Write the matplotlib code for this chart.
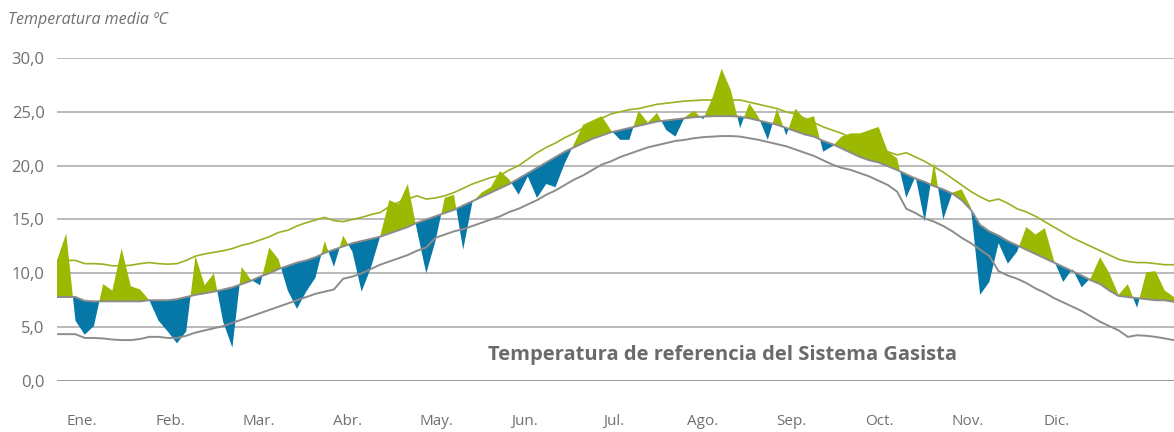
import numpy as np
import matplotlib.pyplot as plt

# daily series sampled every 3 days (day 0 .. 363)
upper = [11.2, 11.2, 11.2, 10.9, 10.9, 10.85, 10.7, 10.7, 10.75, 10.9,
         11.0, 10.9, 10.85, 10.9, 11.2, 11.6, 11.8, 11.95, 12.1, 12.3,
         12.6, 12.8, 13.1, 13.4, 13.8, 14.0, 14.4, 14.7, 14.95, 15.2,
         14.9, 14.8, 15.0, 15.2, 15.45, 15.65, 16.2, 16.6, 16.9, 17.2,
         16.9, 17.0, 17.2, 17.5, 17.9, 18.3, 18.6, 18.9, 19.1, 19.6,
         20.0, 20.6, 21.2, 21.7, 22.1, 22.6, 23.0, 23.5, 24.0, 24.4,
         24.8, 25.0, 25.2, 25.3, 25.5, 25.7, 25.8, 25.9, 26.0, 26.05,
         26.1, 26.1, 26.1, 26.1, 26.1, 25.9, 25.7, 25.5, 25.3, 25.0,
         24.8, 24.4, 24.0, 23.6, 23.3, 23.0, 22.6, 22.3, 21.9, 21.6,
         21.3, 21.0, 21.2, 20.8, 20.4, 19.9, 19.4, 18.8, 18.2, 17.6,
         17.1, 16.7, 16.9, 16.5, 16.0, 15.7, 15.3, 14.8, 14.3, 13.8,
         13.3, 12.9, 12.5, 12.1, 11.7, 11.3, 11.1, 11.0, 11.0, 10.9,
         10.8, 10.8]

referencia = [7.8, 7.8, 7.8, 7.45, 7.4, 7.4, 7.4, 7.4, 7.4, 7.4,
              7.5, 7.5, 7.5, 7.6, 7.8, 8.0, 8.15, 8.3, 8.5, 8.7,
              9.0, 9.3, 9.7, 10.0, 10.4, 10.7, 11.0, 11.2, 11.5, 11.9,
              12.2, 12.5, 12.8, 13.0, 13.2, 13.4, 13.7, 14.0, 14.3, 14.7,
              15.0, 15.3, 15.6, 15.9, 16.3, 16.7, 17.1, 17.5, 17.9, 18.3,
              18.8, 19.3, 19.8, 20.3, 20.8, 21.3, 21.7, 22.1, 22.5, 22.8,
              23.1, 23.3, 23.5, 23.7, 23.9, 24.1, 24.2, 24.3, 24.4, 24.5,
              24.55, 24.6, 24.6, 24.6, 24.55, 24.4, 24.2, 24.0, 23.8, 23.5,
              23.2, 22.9, 22.7, 22.3, 22.0, 21.6, 21.2, 20.8, 20.5, 20.3,
              19.95, 19.6, 19.2, 18.8, 18.5, 18.1, 17.8, 17.4, 16.8, 15.9,
              14.5, 13.9, 13.5, 13.0, 12.6, 12.2, 11.8, 11.4, 11.0, 10.6,
              10.2, 9.8, 9.35, 9.0, 8.4, 7.9, 7.8, 7.7, 7.6, 7.5,
              7.5, 7.35]

lower = [4.35, 4.35, 4.35, 4.0, 4.0, 3.95, 3.85, 3.8, 3.8, 3.9,
         4.1, 4.1, 4.0, 4.0, 4.2, 4.5, 4.7, 4.9, 5.1, 5.4,
         5.7, 6.0, 6.3, 6.6, 6.9, 7.2, 7.5, 7.8, 8.1, 8.3,
         8.5, 9.5, 9.7, 10.0, 10.4, 10.8, 11.1, 11.4, 11.7, 12.1,
         12.4, 13.3, 13.6, 13.9, 14.1, 14.4, 14.7, 15.0, 15.3, 15.7,
         16.0, 16.4, 16.8, 17.3, 17.7, 18.2, 18.7, 19.1, 19.6, 20.1,
         20.4, 20.8, 21.1, 21.4, 21.7, 21.9, 22.1, 22.3, 22.4, 22.55,
         22.65, 22.7, 22.75, 22.75, 22.7, 22.55, 22.4, 22.2, 22.0, 21.8,
         21.5, 21.2, 20.9, 20.5, 20.1, 19.8, 19.6, 19.3, 19.0, 18.6,
         18.2, 17.6, 16.0, 15.6, 15.1, 14.8, 14.4, 13.9, 13.3, 12.8,
         12.2, 11.6, 10.2, 9.8, 9.5, 9.1, 8.6, 8.2, 7.7, 7.3,
         6.9, 6.5, 6.0, 5.5, 5.1, 4.7, 4.1, 4.25, 4.2, 4.1,
         3.95, 3.8]

media = [11.2, 13.7, 5.6, 4.3, 5.1, 9.0, 8.4, 12.3, 8.8, 8.5,
         7.5, 5.6, 4.6, 3.5, 4.6, 11.6, 8.9, 10.0, 5.5, 3.1,
         10.6, 9.4, 8.9, 12.4, 11.3, 8.4, 6.7, 8.3, 9.6, 13.0,
         10.6, 13.5, 12.0, 8.3, 10.5, 13.4, 16.8, 16.4, 18.3, 14.0,
         10.0, 13.0, 17.0, 17.3, 12.2, 16.6, 17.5, 18.0, 19.5, 18.7,
         17.3, 19.0, 17.0, 18.3, 18.0, 20.2, 22.0, 23.8, 24.2, 24.6,
         23.3, 22.4, 22.4, 25.1, 24.0, 24.9, 23.3, 22.7, 24.5, 25.1,
         24.3, 26.3, 29.0, 27.0, 23.5, 25.8, 24.5, 22.4, 25.3, 22.8,
         25.3, 24.3, 24.6, 21.3, 21.8, 22.7, 23.0, 23.0, 23.3, 23.6,
         21.3, 20.7, 17.0, 19.0, 14.8, 20.3, 15.0, 17.5, 17.8, 16.1,
         8.0, 9.2, 12.8, 10.9, 12.0, 14.3, 13.6, 14.2, 11.2, 9.2,
         10.4, 8.7, 9.6, 11.5, 10.0, 8.0, 9.0, 6.8, 10.1, 10.2,
         8.4, 7.8]

meses = ['Ene.', 'Feb.', 'Mar.', 'Abr.', 'May.', 'Jun.',
         'Jul.', 'Ago.', 'Sep.', 'Oct.', 'Nov.', 'Dic.']

dias = np.arange(len(media)) * 3
media = np.array(media)
referencia = np.array(referencia)

plt.rcParams['font.family'] = ['Open Sans', 'DejaVu Sans']

fig = plt.figure(figsize=(11.74, 4.32), dpi=100)
ax = fig.add_axes([57 / 1174, 51 / 432, 1117 / 1174, 323 / 432])

gris = '#707070'
for v in [5, 10, 15, 20, 25, 30]:
    ax.axhline(v, color='#b4b4b4', lw=1.3, zorder=0)
ax.axhline(0, color='#9a9a9a', lw=2.2, zorder=5)

ax.plot(dias, upper, color='#9db022', lw=1.2, zorder=1)
ax.fill_between(dias, media, referencia, where=media >= referencia,
                interpolate=True, color='#9cb800', lw=0, zorder=2)
ax.fill_between(dias, media, referencia, where=media <= referencia,
                interpolate=True, color='#0678a8', lw=0, zorder=2)
ax.plot(dias, referencia, color='#8c8c8c', lw=1.4, zorder=3)
ax.plot(dias, lower, color='#8c8c8c', lw=1.4, zorder=3)

ax.set_xlim(0, dias[-1])
ax.set_ylim(0, 30)
for s in ax.spines.values():
    s.set_visible(False)

ax.set_yticks([0, 5, 10, 15, 20, 25, 30])
ax.set_yticklabels(['0,0', '5,0', '10,0', '15,0', '20,0', '25,0', '30,0'])
ax.tick_params(axis='y', length=0, pad=9, labelsize=12, labelcolor=gris)

ax.set_xticks(8.1 + 28.8 * np.arange(12))
ax.set_xticklabels(meses)
ax.tick_params(axis='x', length=0, pad=24, labelsize=11, labelcolor=gris)

fig.text(8 / 1174, 1 - 20 / 432, 'Temperatura media ºC', style='italic',
         fontsize=11.5, color=gris, va='center', ha='left')
fig.text(722 / 1174, 1 - 355 / 432, 'Temperatura de referencia del Sistema Gasista',
         fontsize=14.5, fontweight='bold', color='#6a6a6a', ha='center', va='center')

fig.savefig('out.png', dpi=100)
